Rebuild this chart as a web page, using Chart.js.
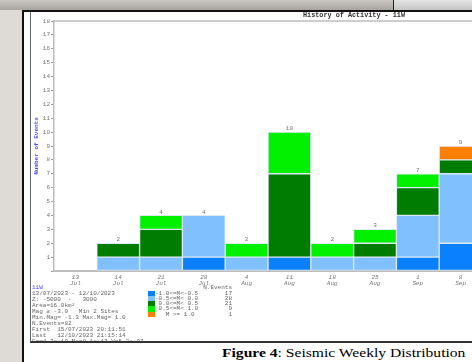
<!DOCTYPE html>
<html>
<head>
<meta charset="utf-8">
<script src="https://cdn.jsdelivr.net/npm/chart.js@4.4.1/dist/chart.umd.min.js"></script>
<style>
  html, body { margin: 0; padding: 0; width: 472px; height: 362px; overflow: hidden; background: #dedbd6; }
  #band { position: absolute; left: 0; top: 0; width: 393px; height: 10px; background: linear-gradient(#cbc8c4, #a7a4a0); border-right: 1px solid #222; }
  #band2 { position: absolute; left: 394px; top: 0; width: 80px; height: 10px; background: linear-gradient(#e4e4e4, #c4c4c4); }
  #page { position: absolute; left: 22px; top: 10px; width: 460px; height: 360px; background: #fff; border-left: 2px solid #111; border-top: 2px solid #111; }
  #frame { position: absolute; left: 30px; top: 12px; width: 460px; height: 329px; border-left: 1px solid #666; border-bottom: 2px solid #333; z-index: 3; pointer-events: none; }
  #chartBox { position: absolute; left: 30px; top: 11px; z-index: 1; }
  #info { position: absolute; left: 32px; top: 285px; font: 6px "Liberation Mono", monospace; line-height: 6px; color: #666; white-space: pre; z-index: 2; }
  #info .zone { color: #4646ff; }
  #legend { position: absolute; left: 148px; top: 285px; width: 84px; font: 6px "Liberation Mono", monospace; color: #666; z-index: 2; }
  #legend .head { height: 5.6px; line-height: 5.6px; text-align: right; }
  #legend .row { position: relative; height: 5.3px; line-height: 5.3px; white-space: pre; }
  #legend .sw { position: absolute; left: 0; top: 0; width: 7px; height: 5.3px; }
  #legend .lab { position: absolute; left: 7px; }
  #legend .num { position: absolute; right: 0; }
  #caption { position: absolute; left: 222px; top: 345px; font: 13px "Liberation Serif", serif; color: #000; white-space: nowrap; transform: scaleX(1.2); transform-origin: 0 0; }
</style>
</head>
<body>
<div id="band"></div>
<div id="band2"></div>
<div id="page"></div>
<div id="chartBox"><canvas id="weeklyChart" width="648" height="280"></canvas></div>
<div id="frame"></div>
<div id="info"></div>
<div id="legend"></div>
<div id="caption"><b>Figure 4</b>: Seismic Weekly Distribution</div>
<script>
// week labels (day / month)
const weekDays = ['13', '14', '21', '28', '4', '11', '18', '25', '1', '8'];
const weekMonths = ['Jul', 'Jul', 'Jul', 'Jul', 'Aug', 'Aug', 'Aug', 'Aug', 'Sep', 'Sep'];

// events per week for each magnitude class (bottom to top of the stack)
const magNeg10 = [0, 0, 0, 1, 0, 1, 0, 0, 1, 2];
const magNeg05 = [0, 1, 1, 3, 1, 0, 1, 1, 3, 5];
const mag00 = [0, 1, 2, 0, 0, 6, 0, 1, 2, 1];
const mag05 = [0, 0, 1, 0, 1, 3, 1, 1, 1, 0];
const mag10 = [0, 0, 0, 0, 0, 0, 0, 0, 0, 1];

const classLabels = ['-1.0<=M<-0.5', '-0.5<=M< 0.0', ' 0.0<=M< 0.5', ' 0.5<=M< 1.0', '   M >= 1.0'];
const classTotals = [17, 28, 21, 9, 1];
const classColors = ['#0a80ff', '#80c0ff', '#007c00', '#00f000', '#ff8000'];

const chartTitle = 'History of Activity - 11W';

const infoLines = [
    '13/07/2023 - 12/10/2023',
    'Z: -5000  -   3000',
    'Area=16.0km\u00b2',
    'Mag \u2265 -3.0   Min 2 Sites',
    'Min.Mag= -1.3 Max.Mag= 1.0',
    'N.Events=82',
    'First  15/07/2023 20:11:51',
    'Last   12/10/2023 21:15:14',
    'Ez=4.3e+10 Mo=8.1e+17 V=5.2e+07'
];

document.addEventListener('DOMContentLoaded', function () {

    // info block under the chart
    const info = document.getElementById('info');
    info.innerHTML = '<span class="zone">11W</span>\n' + infoLines.join('\n');

    // magnitude legend with counts
    const legend = document.getElementById('legend');
    let html = '<div class="head">N.Events</div>';
    classLabels.forEach((lab, i) => {
        html += '<div class="row"><span class="sw" style="background:' + classColors[i] + '"></span>'
            + '<span class="lab">' + lab + '</span><span class="num">' + classTotals[i] + '</span></div>';
    });
    legend.innerHTML = html;

    const series = [magNeg10, magNeg05, mag00, mag05, mag10];
    const labels = weekDays.map((d, i) => [d, weekMonths[i]]);

    // totals above each stacked bar, top border and the title (centred on the whole canvas)
    const totalsPlugin = {
        id: 'totals',
        beforeDraw(chart) {
            const a = chart.chartArea, ctx = chart.ctx;
            ctx.save();
            ctx.strokeStyle = '#bdbdbd';
            ctx.lineWidth = 1.5;
            ctx.beginPath();
            ctx.moveTo(a.left, a.top);
            ctx.lineTo(chart.width, a.top);
            ctx.stroke();

            ctx.font = 'bold 6.8px "Liberation Mono", monospace';
            ctx.fillStyle = '#333';
            ctx.textAlign = 'center';
            ctx.textBaseline = 'middle';
            ctx.fillText(chartTitle, chart.width / 2, 4.5);
            ctx.restore();
        },
        afterDatasetsDraw(chart) {
            const ctx = chart.ctx;
            const x = chart.scales.x, y = chart.scales.y;
            ctx.save();
            ctx.font = '6px "Liberation Mono", monospace';
            ctx.fillStyle = '#777';
            ctx.textAlign = 'center';
            ctx.textBaseline = 'bottom';
            weekDays.forEach((d, i) => {
                const total = series.reduce((s, arr) => s + arr[i], 0);
                if (total > 0) {
                    ctx.fillText(String(total), x.getPixelForValue(i), y.getPixelForValue(total) - 0.5);
                }
            });
            ctx.restore();
        }
    };

    const ctx = document.getElementById('weeklyChart').getContext('2d');
    new Chart(ctx, {
        type: 'bar',
        data: {
            labels: labels,
            datasets: series.map((arr, i) => ({
                label: classLabels[i],
                data: arr,
                backgroundColor: classColors[i],
                borderColor: 'rgba(215,230,245,0.85)',
                borderWidth: 1,
                borderSkipped: false,
                barPercentage: 1,
                categoryPercentage: 1
            }))
        },
        options: {
            responsive: false,
            animation: false,
            devicePixelRatio: 1,
            layout: { padding: { left: 0, right: 196, top: 10, bottom: 0 } },
            plugins: {
                legend: { display: false },
                tooltip: { enabled: false },
                title: { display: false }
            },
            scales: {
                x: {
                    stacked: true,
                    grid: { display: false, drawTicks: false },
                    border: { display: true, color: '#bdbdbd', width: 2 },
                    ticks: {
                        color: '#777',
                        padding: 4,
                        maxRotation: 0,
                        autoSkip: false,
                        font: { family: 'Liberation Mono', size: 6, style: 'italic', lineHeight: 0.95 }
                    },
                    afterFit: function (scale) { scale.height = 20; }
                },
                y: {
                    stacked: true,
                    min: 0,
                    max: 18,
                    grid: { drawOnChartArea: false, tickLength: 3, color: '#999' },
                    border: { display: true, color: '#bdbdbd', width: 1.5 },
                    ticks: {
                        stepSize: 1,
                        color: '#777',
                        padding: 1,
                        font: { family: 'Liberation Mono', size: 6 },
                        callback: function (v) { return v === 0 ? '' : v; }
                    },
                    title: {
                        display: true,
                        text: 'Number of Events',
                        color: '#4c4cff',
                        padding: { top: 3, bottom: 0 },
                        font: { family: 'Liberation Mono', size: 6, weight: 'bold' }
                    },
                    afterFit: function (scale) { scale.width = 24; }
                }
            }
        },
        plugins: [totalsPlugin]
    });
});
</script>
</body>
</html>
